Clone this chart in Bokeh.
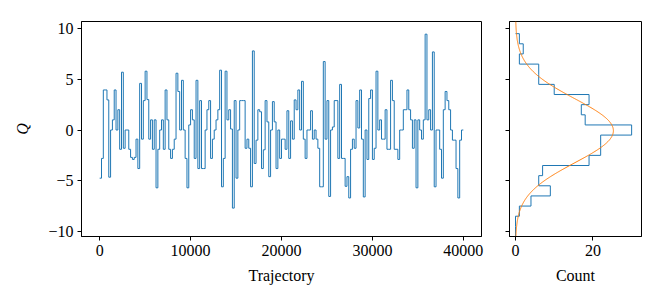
import numpy as np
from bokeh.plotting import figure
from bokeh.layouts import row
from bokeh.models import Range1d, FixedTicker
from bokeh.embed import file_html
from bokeh.resources import INLINE

# ---- data ----
traj_step = 200
q_values = [
    -4.75, -2.8, 3.95, 3.95, 2.97, -4.65, 0.0, 1.0, 3.95, 0.0,
    2.0, -1.9, 5.7, -1.8, 0.0, 0.0, -1.9, -2.7, -2.9, -2.7,
    -0.9, -3.8, 4.6, -0.9, 2.9, 5.8, 3.0, -0.9, 1.0, -1.9,
    1.0, -5.7, -1.9, 0.0, 1.0, -1.9, 3.95, 1.0, -1.9, -2.8,
    -1.9, -0.9, 5.6, 3.8, 0.0, 4.9, 0.0, -2.8, -5.7, 0.5,
    2.0, 1.0, -2.8, 4.9, -3.8, 2.9, -3.8, -3.8, 0.0, 2.0,
    2.9, -2.8, -0.9, 0.0, 1.0, 2.0, 5.9, -5.6, -2.8, 5.8,
    1.0, 2.0, 0.1, -7.7, 2.9, -4.75, 0.0, 2.9, 2.9, 2.9,
    -1.8, -0.9, -1.8, -5.6, 7.8, -3.3, -1.0, 2.0, 1.8, -3.8,
    -1.95, 2.9, 0.8, -4.6, 0.0, 2.8, 0.8, -3.8, 0.0, -2.8,
    -0.9, -0.9, -1.9, 1.9, -2.8, 0.9, -0.9, 2.97, 2.0, 3.95,
    0.0, 4.8, -0.9, -2.8, 0.0, 0.0, 1.9, -0.9, 0.0, -0.9,
    -1.8, -5.6, -5.6, 6.75, -0.9, 2.9, -6.55, 0.0, 0.3, 2.9,
    2.9, -2.8, 4.5, -2.8, -2.8, -5.55, -4.6, -6.7, -1.9, -0.9,
    -1.8, 2.9, 0.2, 3.95, -0.9, -6.6, 0.0, -2.9, 3.1, 3.95,
    -2.9, -1.8, 5.8, 0.0, 1.0, -0.9, -0.9, 2.0, -1.9, -1.9,
    4.9, 2.9, -1.9, -1.9, -2.9, 0.0, 0.0, 2.0, 2.0, 3.95,
    2.0, 1.0, -1.8, 1.0, -5.7, 1.0, 0.0, -0.9, 1.0, 9.45,
    1.0, 2.0, 0.0, 7.7, -5.6, 0.0, 0.0, -1.9, -4.75, 2.0,
    3.8, 2.9, 2.0, 0.0, -1.0, -1.0, -3.8, -6.7, -1.0, 0.0,
]
bin_edges = [-10.5, -9.5, -8.5, -7.5, -6.5, -5.5, -4.5, -3.5, -2.5, -1.5, -0.5,
             0.5, 1.5, 2.5, 3.5, 4.5, 5.5, 6.5, 7.5, 8.5, 9.5]
x_ticks = [0, 10000, 20000, 30000, 40000]
y_ticks = [-10, -5, 0, 5, 10]
count_ticks = [0, 20]

BLUE = "#1f77b4"
ORANGE = "#ff7f0e"
FONT = "Liberation Serif"
FS = "16px"

q = np.array(q_values, dtype=float)
n = len(q)
traj = np.arange(n + 1) * traj_step
q_step = np.append(q, q[-1])

y_range = Range1d(-10.5, 10.7)


def style(p):
    p.grid.visible = False
    p.outline_line_color = "black"
    p.outline_line_width = 1
    p.background_fill_color = "white"
    p.border_fill_color = "white"
    for ax in p.axis:
        ax.axis_line_color = "black"
        ax.axis_line_width = 1
        ax.major_tick_in = 0
        ax.major_tick_out = 4
        ax.major_tick_line_width = 1
        ax.minor_tick_line_color = None
        ax.major_label_text_font = FONT
        ax.major_label_text_font_size = FS
        ax.major_label_text_color = "black"
        ax.axis_label_text_font = FONT
        ax.axis_label_text_font_size = FS
        ax.axis_label_text_font_style = "normal"
        ax.axis_label_text_color = "black"
        ax.major_label_standoff = 4


p1 = figure(width=496, height=294, x_range=Range1d(-2000, 42000), y_range=y_range,
            output_backend="svg", toolbar_location=None,
            min_border_left=81, min_border_right=15, min_border_top=21, min_border_bottom=58)
p1.step(traj, q_step, mode="after", line_color=BLUE, line_width=1)
style(p1)
p1.xaxis.ticker = FixedTicker(ticks=x_ticks)
p1.yaxis.ticker = FixedTicker(ticks=y_ticks)
p1.yaxis.major_label_overrides = {t: (str(t) if t >= 0 else "\u2212" + str(-t)) for t in y_ticks}
p1.xaxis.axis_label = "Trajectory"
p1.yaxis.axis_label = "Q"
p1.yaxis.axis_label_text_font_style = "italic"
p1.xaxis.axis_label_standoff = 8
p1.yaxis.axis_label_standoff = 14

# histogram (horizontal step outline)
counts, edges = np.histogram(q, bins=bin_edges)
hx = [0.0]
hy = [edges[0]]
for c, lo, hi in zip(counts, edges[:-1], edges[1:]):
    hx += [c, c]
    hy += [lo, hi]
hx.append(0.0)
hy.append(edges[-1])

mu = q.mean()
sd = q.std()
bw = edges[1] - edges[0]
gy = np.linspace(y_range.start, y_range.end, 400)
gx = n * bw / (np.sqrt(2 * np.pi) * sd) * np.exp(-0.5 * ((gy - mu) / sd) ** 2)

p2 = figure(width=160, height=294, x_range=Range1d(-1.55, 32.55), y_range=y_range,
            output_backend="svg", toolbar_location=None,
            min_border_left=13, min_border_right=15, min_border_top=21, min_border_bottom=58)
p2.line(hx, hy, line_color=BLUE, line_width=1)
p2.line(gx, gy, line_color=ORANGE, line_width=1)
style(p2)
p2.xaxis.ticker = FixedTicker(ticks=count_ticks)
p2.yaxis.ticker = FixedTicker(ticks=y_ticks)
p2.yaxis.major_label_overrides = {t: "" for t in y_ticks}
p2.yaxis.major_label_standoff = 0
p2.xaxis.axis_label = "Count"
p2.xaxis.axis_label_standoff = 8

layout = row(p1, p2, spacing=0)
open("out.html", "w").write(file_html(layout, INLINE))
